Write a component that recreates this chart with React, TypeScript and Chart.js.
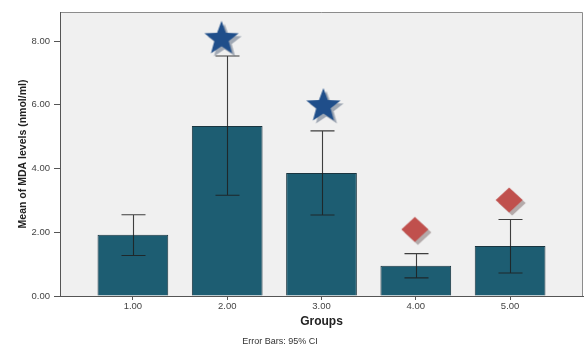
import { useEffect, useRef } from "react";
import { Chart, registerables } from "chart.js";

Chart.register(...registerables);

// Group codes and mean MDA level per group, with 95% CI bounds
const groups = [1, 2, 3, 4, 5];
const meanMDA = [1.92, 5.33, 3.86, 0.95, 1.57];
const ciLower = [1.27, 3.16, 2.54, 0.57, 0.72];
const ciUpper = [2.55, 7.53, 5.18, 1.33, 2.4];
const yTicks = [0, 2, 4, 6, 8];

// Significance markers placed above the groups
const markerX = [1.94, 3.02, 3.99, 4.99];
const markerY = [8.07, 5.96, 2.09, 3.01];
const markerShape = ["star", "star", "diamond", "diamond"];

const FONT = "'Liberation Sans', Arial, Helvetica, sans-serif";

function makeStar(): HTMLCanvasElement {
  const c = document.createElement("canvas");
  c.width = 48;
  c.height = 48;
  const ctx = c.getContext("2d")!;
  const R = 18;
  const r = R * 0.42;
  const path = (cx: number, cy: number) => {
    ctx.beginPath();
    for (let k = 0; k < 10; k++) {
      const rad = k % 2 === 0 ? R : r;
      const a = -Math.PI / 2 + (k * Math.PI) / 5;
      const px = cx + rad * Math.cos(a);
      const py = cy + rad * Math.sin(a);
      if (k === 0) ctx.moveTo(px, py);
      else ctx.lineTo(px, py);
    }
    ctx.closePath();
  };
  path(24 + 3, 24 + 3);
  ctx.fillStyle = "rgba(80,95,120,0.5)";
  ctx.fill();
  path(24, 24);
  ctx.fillStyle = "#1f4e8a";
  ctx.fill();
  return c;
}

function makeDiamond(): HTMLCanvasElement {
  const c = document.createElement("canvas");
  c.width = 40;
  c.height = 40;
  const ctx = c.getContext("2d")!;
  const hw = 13.5;
  const hh = 12.5;
  const path = (cx: number, cy: number) => {
    ctx.beginPath();
    ctx.moveTo(cx, cy - hh);
    ctx.lineTo(cx + hw, cy);
    ctx.lineTo(cx, cy + hh);
    ctx.lineTo(cx - hw, cy);
    ctx.closePath();
  };
  path(20 + 3, 20 + 3);
  ctx.fillStyle = "rgba(120,100,100,0.5)";
  ctx.fill();
  path(20, 20);
  ctx.fillStyle = "#c0504d";
  ctx.fill();
  return c;
}

const BAR_INDEX = 1;

const plotFrame = {
  id: "plotFrame",
  beforeDraw(chart: any) {
    const { ctx, chartArea: a } = chart;
    ctx.save();
    ctx.fillStyle = "#f0f0f0";
    ctx.fillRect(a.left, a.top, a.right - a.left, a.bottom - a.top);
    ctx.strokeStyle = "#8c8c8c";
    ctx.lineWidth = 1;
    ctx.beginPath();
    ctx.moveTo(a.left, a.top + 0.5);
    ctx.lineTo(a.right - 0.5, a.top + 0.5);
    ctx.lineTo(a.right - 0.5, a.bottom);
    ctx.stroke();
    ctx.restore();
  },
};

const errorBars = {
  id: "errorBars",
  afterDatasetDraw(chart: any, args: any) {
    if (args.index !== BAR_INDEX) return;
    const { ctx } = chart;
    const y = chart.scales.y;
    const cap = 12;
    ctx.save();
    ctx.strokeStyle = "rgba(30,30,30,0.85)";
    ctx.lineWidth = 1.1;
    args.meta.data.forEach((bar: any, i: number) => {
      const x = Math.round(bar.x) + 0.5;
      const top = y.getPixelForValue(ciUpper[i]);
      const bot = y.getPixelForValue(ciLower[i]);
      ctx.beginPath();
      ctx.moveTo(x, top);
      ctx.lineTo(x, bot);
      ctx.moveTo(x - cap, top);
      ctx.lineTo(x + cap, top);
      ctx.moveTo(x - cap, bot);
      ctx.lineTo(x + cap, bot);
      ctx.stroke();
    });
    ctx.restore();
  },
};

const footnote = {
  id: "footnote",
  afterDraw(chart: any) {
    const { ctx } = chart;
    ctx.save();
    ctx.font = `9px ${FONT}`;
    ctx.fillStyle = "#333";
    ctx.textAlign = "center";
    ctx.textBaseline = "middle";
    ctx.fillText("Error Bars: 95% CI", 280, 342);
    ctx.restore();
  },
};

export default function App() {
  const ref = useRef<HTMLCanvasElement>(null);

  useEffect(() => {
    if (!ref.current) return;
    const images: Record<string, HTMLCanvasElement> = {
      star: makeStar(),
      diamond: makeDiamond(),
    };
    const chart = new Chart(ref.current, {
      type: "bar",
      data: {
        datasets: [
          {
            type: "scatter",
            data: markerX.map((x, i) => ({ x, y: markerY[i] })),
            pointStyle: markerShape.map((s) => images[s]) as any,
            pointRadius: 5,
          } as any,
          {
            type: "bar",
            data: groups.map((g, i) => ({ x: g, y: meanMDA[i] })),
            backgroundColor: "#1d5d72",
            borderColor: "#1a3540",
            borderWidth: 1,
            barPercentage: 0.75,
            categoryPercentage: 1,
          },
        ],
      },
      options: {
        animation: false,
        responsive: false,
        events: [],
        layout: {
          autoPadding: false,
          padding: { top: 12, right: 1, left: 0, bottom: 0 },
        },
        plugins: {
          legend: { display: false },
          tooltip: { enabled: false },
        },
        scales: {
          x: {
            type: "linear",
            min: 0.227,
            max: 5.773,
            offset: false,
            afterBuildTicks: (s: any) => {
              s.ticks = groups.map((v) => ({ value: v }));
            },
            afterFit: (s: any) => {
              s.height = 50;
              s.paddingLeft = 0;
              s.paddingRight = 0;
            },
            ticks: {
              callback: (v: any) => Number(v).toFixed(2),
              font: { family: FONT, size: 9.5 },
              color: "#444",
              padding: 1,
              maxRotation: 0,
              autoSkip: false,
            },
            grid: {
              drawOnChartArea: false,
              offset: false,
              tickLength: 4,
              color: "#555",
            },
            border: { color: "#555" },
            title: {
              display: true,
              text: "Groups",
              font: { family: FONT, size: 12, weight: "bold" },
              color: "#222",
              padding: { top: 0, bottom: 17 },
            },
          },
          y: {
            min: 0,
            max: 8.91,
            afterBuildTicks: (s: any) => {
              s.ticks = yTicks.map((v) => ({ value: v }));
            },
            afterFit: (s: any) => {
              s.width = 60;
              s.paddingTop = 0;
              s.paddingBottom = 0;
            },
            ticks: {
              callback: (v: any) => Number(v).toFixed(2),
              font: { family: FONT, size: 9.5 },
              color: "#444",
              padding: 4,
            },
            grid: {
              drawOnChartArea: false,
              tickLength: 6,
              color: "#555",
            },
            border: { color: "#555" },
            title: {
              display: true,
              text: "Mean of MDA levels (nmol/ml)",
              font: { family: FONT, size: 10.5, weight: "bold" },
              color: "#222",
              padding: { top: 17, bottom: 0 },
            },
          },
        },
      },
      plugins: [plotFrame, errorBars, footnote],
    });
    return () => chart.destroy();
  }, []);

  return (
    <div
      style={{
        position: "absolute",
        left: 0,
        top: 0,
        width: 584,
        height: 346,
        background: "#fff",
      }}
    >
      <canvas ref={ref} width={584} height={346} />
    </div>
  );
}
